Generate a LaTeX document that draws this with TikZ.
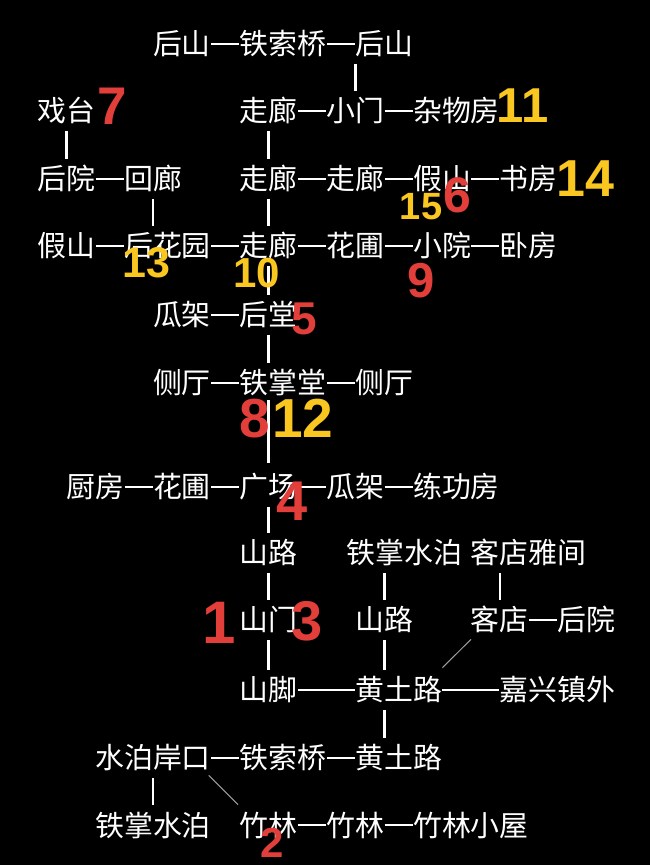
\documentclass[tikz,border=0pt]{standalone}
\usepackage{fontspec}
\usepackage{tikz}
\usetikzlibrary{calc}
\newfontfamily\cjk{Noto Sans CJK SC}
\newfontfamily\numfont{Liberation Sans}
\definecolor{numred}{RGB}{226,62,58}
\definecolor{numyellow}{RGB}{250,198,32}
\def\cx#1{37+28.9*#1}
\tikzset{
	place/.style={font=\cjk\fontsize{14.45pt}{14.45pt}\selectfont, text=white, inner sep=0pt, text height=12.72pt, text depth=1.73pt, anchor=west},
	hlink/.style={draw=white, line width=1.1pt},
	vlink/.style={draw=white, line width=1.3pt, shorten <=2.5pt, shorten >=2.5pt},
	slant/.style={draw=white!62!black, line width=0.5pt},
	rednum/.style={font=\numfont\bfseries\fontsize{#1}{#1}\selectfont, text=numred, inner sep=0pt, anchor=base},
	yelnum/.style={font=\numfont\bfseries\fontsize{#1}{#1}\selectfont, text=numyellow, inner sep=0pt, anchor=base}
}

\begin{document}
\begin{tikzpicture}[x=0.5pt, y=-0.5pt]
			%%%%% START %%%%%
			
			\fill[black] (0, 0) rectangle (650, 865);
			
			% rows of places
			\node[place] (hs1) at ({\cx{4}}, 44) {后山};
			\node[place] (tsq1) at ({\cx{7}}, 44) {铁索桥};
			\node[place] (hs2) at ({\cx{11}}, 44) {后山};
			
			\node[place] (xt) at ({\cx{0}}, 111) {戏台};
			\node[place] (zl1) at ({\cx{7}}, 111) {走廊};
			\node[place] (xm) at ({\cx{10}}, 111) {小门};
			\node[place] (zwf) at ({\cx{13}}, 111) {杂物房};
			
			\node[place] (hy1) at ({\cx{0}}, 179) {后院};
			\node[place] (hl) at ({\cx{3}}, 179) {回廊};
			\node[place] (zl2) at ({\cx{7}}, 179) {走廊};
			\node[place] (zl3) at ({\cx{10}}, 179) {走廊};
			\node[place] (js1) at ({\cx{13}}, 179) {假山};
			\node[place] (sf) at ({\cx{16}}, 179) {书房};
			
			\node[place] (js2) at ({\cx{0}}, 246) {假山};
			\node[place] (hhy) at ({\cx{3}}, 246) {后花园};
			\node[place] (zl4) at ({\cx{7}}, 246) {走廊};
			\node[place] (hp1) at ({\cx{10}}, 246) {花圃};
			\node[place] (xy) at ({\cx{13}}, 246) {小院};
			\node[place] (wf) at ({\cx{16}}, 246) {卧房};
			
			\node[place] (gj1) at ({\cx{4}}, 315) {瓜架};
			\node[place] (ht) at ({\cx{7}}, 315) {后堂};
			
			\node[place] (ct1) at ({\cx{4}}, 383) {侧厅};
			\node[place] (tzt) at ({\cx{7}}, 383) {铁掌堂};
			\node[place] (ct2) at ({\cx{11}}, 383) {侧厅};
			
			\node[place] (cf) at ({\cx{1}}, 487) {厨房};
			\node[place] (hp2) at ({\cx{4}}, 487) {花圃};
			\node[place] (gc) at ({\cx{7}}, 487) {广场};
			\node[place] (gj2) at ({\cx{10}}, 487) {瓜架};
			\node[place] (lgf) at ({\cx{13}}, 487) {练功房};
			
			\node[place] (sl1) at ({\cx{7}}, 553) {山路};
			\node[place] (tzsb1) at (346, 553) {铁掌水泊};
			\node[place] (kdyj) at ({\cx{15}}, 553) {客店雅间};
			
			\node[place] (sm) at ({\cx{7}}, 620) {山门};
			\node[place] (sl2) at ({\cx{11}}, 620) {山路};
			\node[place] (kd) at ({\cx{15}}, 620) {客店};
			\node[place] (hy2) at ({\cx{18}}, 620) {后院};
			
			\node[place] (sj) at ({\cx{7}}, 690) {山脚};
			\node[place] (hl1) at ({\cx{11}}, 690) {黄土路};
			\node[place] (jxzw) at ({\cx{16}}, 690) {嘉兴镇外};
			
			\node[place] (sbak) at ({\cx{2}}, 758) {水泊岸口};
			\node[place] (tsq2) at ({\cx{7}}, 758) {铁索桥};
			\node[place] (hl2) at ({\cx{11}}, 758) {黄土路};
			
			\node[place] (tzsb2) at ({\cx{2}}, 825) {铁掌水泊};
			\node[place] (zl5) at ({\cx{7}}, 825) {竹林};
			\node[place] (zl6) at ({\cx{10}}, 825) {竹林};
			\node[place] (zlxw) at ({\cx{13}}, 825) {竹林小屋};
			
			% dashes along the rows
			\foreach \a/\b in {hs1/tsq1, tsq1/hs2, zl1/xm, xm/zwf, hy1/hl, zl2/zl3, zl3/js1, js1/sf,
				js2/hhy, hhy/zl4, zl4/hp1, hp1/xy, xy/wf, gj1/ht, ct1/tzt, tzt/ct2,
				cf/hp2, hp2/gc, gc/gj2, gj2/lgf, kd/hy2, sj/hl1, hl1/jxzw,
				sbak/tsq2, tsq2/hl2, zl5/zl6, zl6/zlxw}
				\draw[hlink] (\a) -- (\b);
			
			% bars between the rows
			\draw[vlink] (xm.north |- hs2.south) -- (xm.north);
			\draw[vlink] (xt) -- (hy1);
			\draw[vlink] (zl1) -- (zl2);
			\draw[vlink] (hl.south) -- (hl.south |- hhy.north);
			\draw[vlink] (zl2) -- (zl4);
			\draw[vlink] (zl4) -- (ht);
			\draw[vlink] (ht.south) -- (ht.south |- tzt.north);
			\draw[vlink, shorten <=1.25pt, shorten >=4.75pt] (gc.north |- tzt.south) -- (gc.north);
			\draw[vlink] (gc) -- (sl1);
			\draw[vlink] (sl1) -- (sm);
			\draw[vlink] (sm) -- (sj);
			\draw[vlink] (sl2.north |- tzsb1.south) -- (sl2.north);
			\draw[vlink] (sl2.south) -- (sl2.south |- hl1.north);
			\draw[vlink] (sl2 |- hl1.south) -- (sl2 |- hl2.north);
			\draw[vlink] (kd.north |- kdyj.south) -- (kd.north);
			\draw[vlink] (sbak) -- (tzsb2);
			
			% thin slanted ones
			\draw[slant] ([shift={(0,-7.5)}]hl1.north east) -- ([shift={(0.5,4.5)}]kd.south west);
			\draw[slant] ([shift={(-2.4,2.5)}]sbak.south east) -- ([shift={(-1.3,-5.5)}]zl5.north west);
			
			% numbers
			\node[rednum=26.5pt] (n7) at (112.5, 125) {7};
			\node[yelnum=24.5pt] (n11) at (522.5, 123) {11};
			\node[yelnum=26pt] (n14) at (585.5, 197) {14};
			\node[yelnum=19pt] (n15) at (421, 220) {15};
			\node[rednum=25pt] (n6) at (457.5, 213) {6};
			\node[yelnum=21.5pt] (n13) at (146.5, 278) {13};
			\node[yelnum=21pt] (n10) at (256.5, 288) {10};
			\node[rednum=24.5pt] (n9) at (421.5, 298) {9};
			\node[rednum=23pt] (n5) at (304.5, 335) {5};
			\node[rednum=27.5pt] (n8) at (255, 437) {8};
			\node[yelnum=27.5pt] (n12) at (303, 437) {12};
			\node[rednum=28pt] (n4) at (292, 520) {4};
			\node[rednum=30pt] (n1) at (219, 643) {1};
			\node[rednum=28pt] (n3) at (307, 640) {3};
			\node[rednum=21pt] (n2) at (272.5, 857) {2};
			
			%%%%% END %%%%%
\end{tikzpicture}
\end{document}
